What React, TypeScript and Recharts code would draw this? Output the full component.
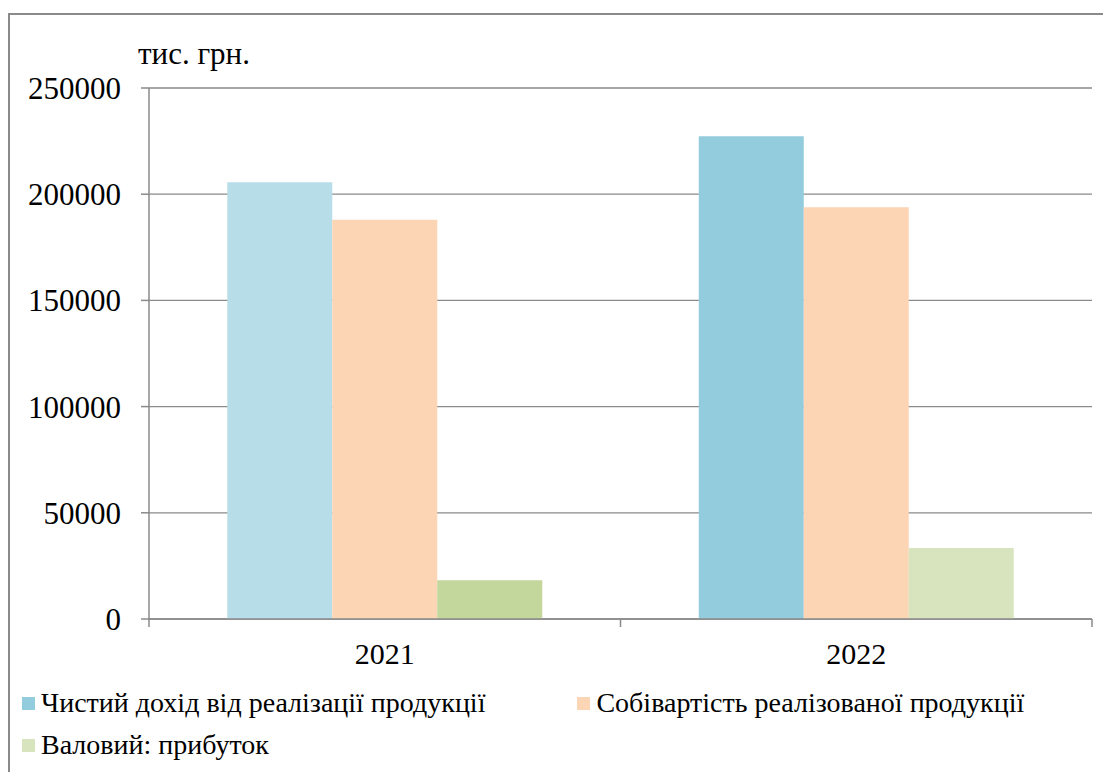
import { Bar, BarChart, CartesianGrid, Cell, Label, Legend, XAxis, YAxis } from "recharts"

// tis. hrn
const years = ["2021", "2022"]
const revenue = [205600, 227300]
const cost = [188000, 193800]
const grossProfit = [18300, 33400]
const yTicks = [0, 50000, 100000, 150000, 200000, 250000]

const seriesNames = [
  "Чистий дохід від реалізації продукції",
  "Собівартість реалізованої продукції",
  "Валовий: прибуток",
]

// each year has its own shade in the original
const revenueColors = ["#B7DEE8", "#93CDDD"]
const costColors = ["#FCD5B5", "#FCD5B5"]
const profitColors = ["#C3D69B", "#D7E4BD"]
const legendColors = ["#93CDDD", "#FCD5B5", "#D7E4BD"]

const data = years.map((year, i) => ({
  year,
  pos: i,
  revenue: revenue[i],
  cost: cost[i],
  profit: grossProfit[i],
}))

const FONT = "'Liberation Serif', 'DejaVu Serif', serif"
const GRAY = "#8a8a8a"

function LegendBox() {
  const item = (i: number) => (
    <div style={{ display: "flex", alignItems: "center", whiteSpace: "nowrap" }}>
      <span style={{ width: 13, height: 13, background: legendColors[i], marginRight: 6 }} />
      <span>{seriesNames[i]}</span>
    </div>
  )
  return (
    <div style={{ fontFamily: FONT, fontSize: 28, color: "#000", lineHeight: "42px" }}>
      <div style={{ display: "flex", gap: 92 }}>
        {item(0)}
        {item(1)}
      </div>
      {item(2)}
    </div>
  )
}

export default function App() {
  return (
    <div
      style={{
        marginTop: 5,
        width: 1103,
        height: 759,
        borderTop: `2px solid ${GRAY}`,
        borderLeft: `2px solid ${GRAY}`,
        overflow: "hidden",
        boxSizing: "border-box",
        fontFamily: FONT,
      }}
    >
      <BarChart
        width={1101}
        height={757}
        data={data}
        margin={{ top: 73, right: 19, bottom: 11, left: 0 }}
        barCategoryGap="16.6%"
        barGap={0}
        style={{ fontFamily: FONT }}
      >
        <CartesianGrid vertical={false} stroke={GRAY} strokeWidth={1.3} />
        <XAxis
          xAxisId="a"
          type="number"
          dataKey="pos"
          domain={[-0.5, 1.5]}
          ticks={[-0.5, 0.5, 1.5]}
          tick={() => <g />}
          tickSize={8}
          height={8}
          axisLine={{ stroke: GRAY, strokeWidth: 1.5 }}
          tickLine={{ stroke: GRAY, strokeWidth: 1.5 }}
        />
        <XAxis
          xAxisId="b"
          dataKey="year"
          axisLine={false}
          tickLine={false}
          tickSize={0}
          tickMargin={16}
          height={50}
          tick={{ fill: "#000", fontSize: 30, fontFamily: FONT }}
        />
        <YAxis
          domain={[0, 250000]}
          ticks={yTicks}
          width={139}
          tickSize={8}
          tickMargin={20}
          axisLine={{ stroke: GRAY, strokeWidth: 1.5 }}
          tickLine={{ stroke: GRAY, strokeWidth: 1.5 }}
          tick={{ fill: "#000", fontSize: 31, fontFamily: FONT }}
        >
          <Label
            content={(props: any) => {
              const vb = props.viewBox
              return (
                <text
                  x={vb.x + vb.width - 11}
                  y={vb.y - 24}
                  fontSize={31}
                  style={{ fontFamily: FONT }}
                  fill="#000"
                >
                  тис. грн.
                </text>
              )
            }}
          />
        </YAxis>
        <Legend
          layout="vertical"
          align="center"
          wrapperStyle={{ position: "absolute", left: 12, top: 667, width: 1090 }}
          content={() => <LegendBox />}
        />
        <Bar xAxisId="b" dataKey="revenue" name={seriesNames[0]} fill={legendColors[0]} isAnimationActive={false}>
          {data.map((d, i) => (
            <Cell key={d.year} fill={revenueColors[i]} />
          ))}
        </Bar>
        <Bar xAxisId="b" dataKey="cost" name={seriesNames[1]} fill={legendColors[1]} isAnimationActive={false}>
          {data.map((d, i) => (
            <Cell key={d.year} fill={costColors[i]} />
          ))}
        </Bar>
        <Bar xAxisId="b" dataKey="profit" name={seriesNames[2]} fill={legendColors[2]} isAnimationActive={false}>
          {data.map((d, i) => (
            <Cell key={d.year} fill={profitColors[i]} />
          ))}
        </Bar>
      </BarChart>
    </div>
  )
}
